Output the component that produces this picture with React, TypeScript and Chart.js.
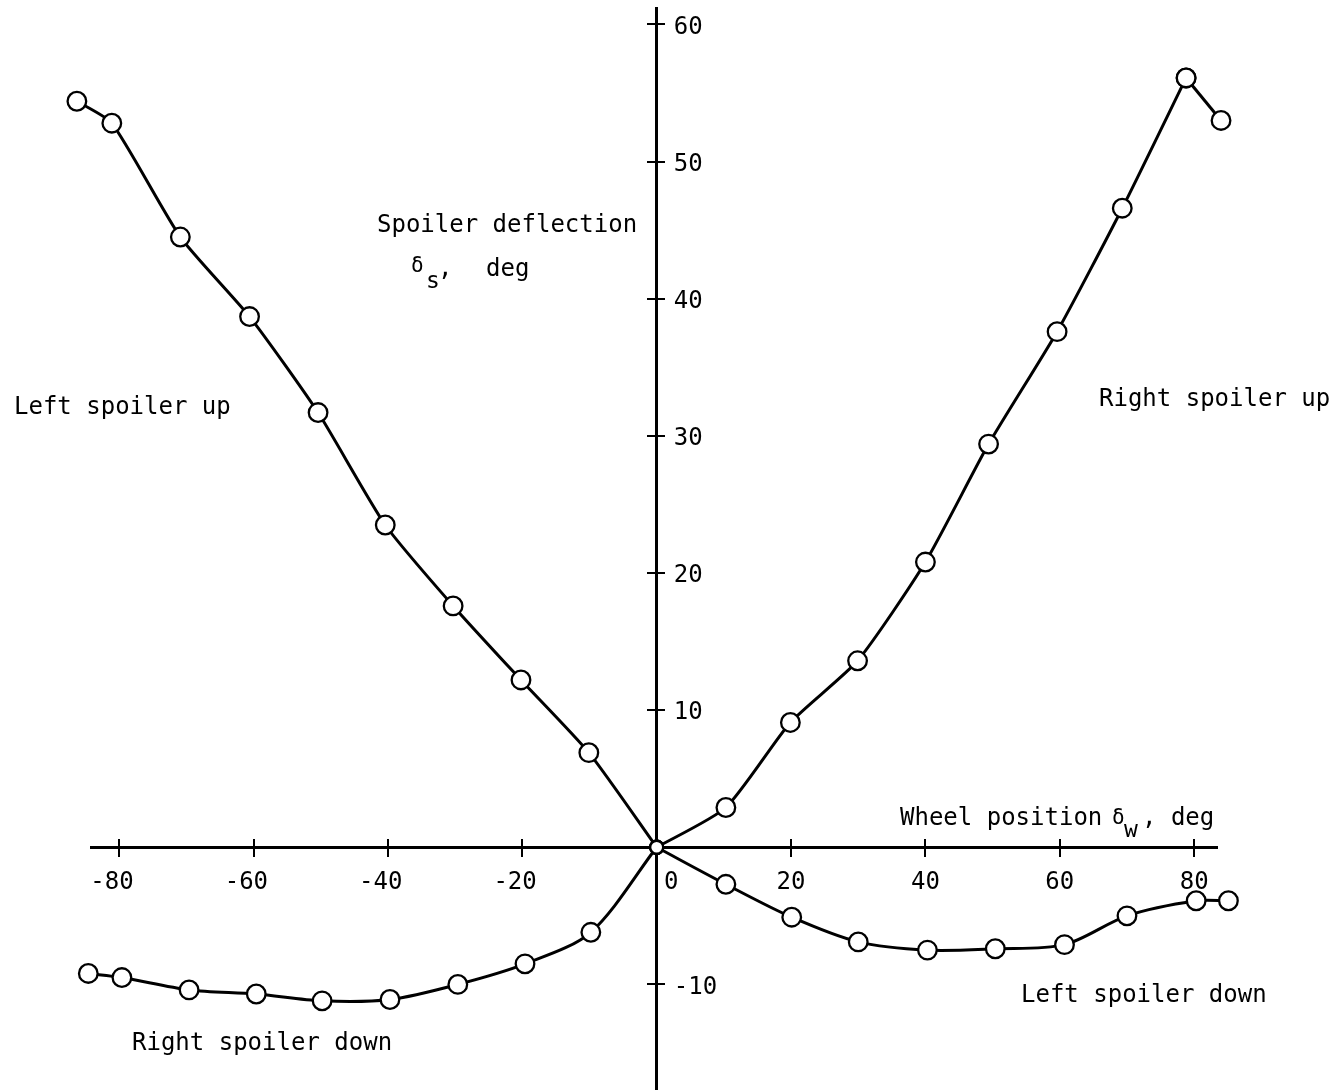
import React, { useEffect, useRef } from 'react';
import { Chart, registerables } from 'chart.js';

Chart.register(...registerables);

// ---- tick values / labels ----
const xTicks = [-80, -60, -40, -20, 0, 20, 40, 60, 80];
const xTickLabels = ['-80', '-60', '-40', '-20', '0', '20', '40', '60', '80'];
const yTicks = [-10, 10, 20, 30, 40, 50, 60];
const yTickLabels = ['-10', '10', '20', '30', '40', '50', '60'];

// ---- series (wheel position deg, spoiler deflection deg) ----
const leftUpX = [-86.3, -81.1, -70.9, -60.6, -50.4, -40.4, -30.3, -20.2, -10.1, 0];
const leftUpY = [54.4, 52.8, 44.5, 38.7, 31.7, 23.5, 17.6, 12.2, 6.9, 0];

const rightUpX = [0, 10.3, 19.9, 29.9, 40.0, 49.4, 59.6, 69.3, 78.8];
const rightUpY = [0, 2.9, 9.1, 13.6, 20.8, 29.4, 37.6, 46.6, 56.1];
const rightUpTailX = [78.8, 84.0];
const rightUpTailY = [56.1, 53.0];

const rightDownX = [-84.6, -79.6, -69.6, -59.6, -49.8, -39.7, -29.6, -19.6, -9.8, 0];
const rightDownY = [-9.2, -9.5, -10.4, -10.7, -11.2, -11.1, -10.0, -8.5, -6.2, 0];

const leftDownX = [0, 10.3, 20.1, 30.0, 40.3, 50.4, 60.7, 70.0, 80.3, 85.1];
const leftDownY = [0, -2.7, -5.1, -6.9, -7.5, -7.4, -7.1, -5.0, -3.9, -3.9];

const X_MIN = -84.2;
const X_MAX = 83.4;
const Y_MIN = -17.7;
const Y_MAX = 61.2;
const Y_LABEL_AT = 9.0;

const FONT = "'DejaVu Sans Mono', 'Liberation Mono', monospace";

const pts = (xs: number[], ys: number[]) => xs.map((x, i) => ({ x, y: ys[i] }));

const xLabel = (i: number) => {
  const s = xTickLabels[i];
  if (s === '0') return '  0';
  if (s.startsWith('-')) return s + ' ';
  return s;
};
const yLabel = (i: number) => {
  const s = yTickLabels[i];
  return s.startsWith('-') ? s : s + ' ';
};

const textPlugin = {
  id: 'texts',
  afterDraw(chart: any) {
    const ctx = chart.ctx;
    ctx.save();
    ctx.fillStyle = '#000';
    ctx.textAlign = 'left';
    ctx.textBaseline = 'alphabetic';
    const t = (s: string, x: number, y: number, size: number) => {
      ctx.font = `${size}px ${FONT}`;
      ctx.fillText(s, x, y);
    };
    t('Spoiler deflection', 377, 232, 24);
    t('\u03b4', 411, 272, 21);
    t('s', 426, 288, 23);
    t(',', 438, 276, 24);
    t('deg', 486, 276, 24);

    t('Wheel position', 900, 825, 24);
    t('\u03b4', 1112, 824, 21);
    t('w', 1124, 837, 23);
    t(', deg', 1142, 825, 24);

    t('Left spoiler up', 14, 414, 24);
    t('Right spoiler up', 1099, 406, 24);
    t('Left spoiler down', 1021, 1002, 24);
    t('Right spoiler down', 132, 1050, 24);
    ctx.restore();
  },
};

// let points lying just beyond the axis ends still be drawn
const areaPlugin = {
  id: 'area',
  beforeDatasetsDraw(chart: any) {
    chart.$savedArea = { ...chart.chartArea };
    chart.chartArea.left -= 40;
    chart.chartArea.right += 40;
  },
  afterDatasetsDraw(chart: any) {
    Object.assign(chart.chartArea, chart.$savedArea);
  },
};

const noPad = (scale: any) => {
  scale.paddingTop = 0;
  scale.paddingBottom = 0;
  scale.paddingLeft = 0;
  scale.paddingRight = 0;
};

export default function App() {
  const ref = useRef<HTMLCanvasElement | null>(null);

  useEffect(() => {
    if (!ref.current) return;
    const common = {
      borderColor: '#000',
      borderWidth: 3,
      pointBackgroundColor: '#fff',
      pointBorderColor: '#000',
      pointBorderWidth: 2.3,
      pointRadius: (c: any) => (c.raw && c.raw.x === 0 && c.raw.y === 0 ? 6.5 : 9.3),
      tension: 0.2,
      clip: false as any,
      fill: false,
    };
    const setTicks = (vals: number[]) => (scale: any) => {
      scale.ticks = vals.map((v) => ({ value: v }));
    };
    const chart = new Chart(ref.current, {
      type: 'line',
      data: {
        datasets: [
          { ...common, label: 'Left spoiler up', data: pts(leftUpX, leftUpY) },
          { ...common, label: 'Right spoiler up', data: pts(rightUpX, rightUpY) },
          { ...common, label: 'Right spoiler up tail', data: pts(rightUpTailX, rightUpTailY), tension: 0 },
          { ...common, label: 'Right spoiler down', data: pts(rightDownX, rightDownY), tension: 0.3 },
          { ...common, label: 'Left spoiler down', data: pts(leftDownX, leftDownY), tension: 0.3 },
        ],
      },
      options: {
        animation: false,
        responsive: false,
        devicePixelRatio: 1,
        layout: { autoPadding: false, padding: { left: 91, right: 115, top: 8, bottom: 0 } },
        plugins: { legend: { display: false }, tooltip: { enabled: false } },
        elements: { line: { capBezierPoints: false } },
        scales: {
          x: {
            type: 'linear',
            axis: 'x',
            min: X_MIN,
            max: X_MAX,
            position: { y: 0 } as any,
            afterBuildTicks: setTicks(xTicks),
            afterFit: noPad,
            grid: { drawOnChartArea: false, drawTicks: true, tickLength: 8, color: '#000', lineWidth: 2 },
            border: { display: true, color: '#000', width: 3 },
            ticks: {
              autoSkip: false,
              maxRotation: 0,
              padding: 13,
              color: '#000',
              font: { family: FONT, size: 24 },
              callback: (_v: any, i: number) => xLabel(i),
            },
          },
          x2: {
            type: 'linear',
            axis: 'x',
            min: X_MIN,
            max: X_MAX,
            position: { y: 0 } as any,
            afterBuildTicks: setTicks(xTicks),
            afterFit: noPad,
            grid: { drawOnChartArea: false, drawTicks: true, tickLength: -8, color: '#000', lineWidth: 2 },
            border: { display: false },
            ticks: { display: false },
          },
          y: {
            type: 'linear',
            axis: 'y',
            min: Y_MIN,
            max: Y_MAX,
            position: { x: 0 } as any,
            afterBuildTicks: setTicks(yTicks),
            afterFit: noPad,
            grid: { drawOnChartArea: false, drawTicks: true, tickLength: 8, color: '#000', lineWidth: 2 },
            border: { display: true, color: '#000', width: 3 },
            ticks: { display: false },
          },
          y2: {
            type: 'linear',
            axis: 'y',
            min: Y_MIN,
            max: Y_MAX,
            position: { x: 0 } as any,
            afterBuildTicks: setTicks(yTicks),
            afterFit: noPad,
            grid: { drawOnChartArea: false, drawTicks: true, tickLength: -8, color: '#000', lineWidth: 2 },
            border: { display: false },
            ticks: { display: false },
          },
          yl: {
            type: 'linear',
            axis: 'y',
            min: Y_MIN,
            max: Y_MAX,
            position: { x: Y_LABEL_AT } as any,
            afterBuildTicks: setTicks(yTicks),
            afterFit: noPad,
            grid: { display: false },
            border: { display: false },
            ticks: {
              autoSkip: false,
              padding: 0,
              labelOffset: 3,
              color: '#000',
              font: { family: FONT, size: 24 },
              callback: (_v: any, i: number) => yLabel(i),
            },
          },
        } as any,
      },
      plugins: [areaPlugin, textPlugin],
    });
    return () => chart.destroy();
  }, []);

  return (
    <div style={{ position: 'absolute', left: 0, top: 0, width: 1332, height: 1090, background: '#fff' }}>
      <canvas ref={ref} width={1332} height={1090} style={{ display: 'block' }} />
    </div>
  );
}
